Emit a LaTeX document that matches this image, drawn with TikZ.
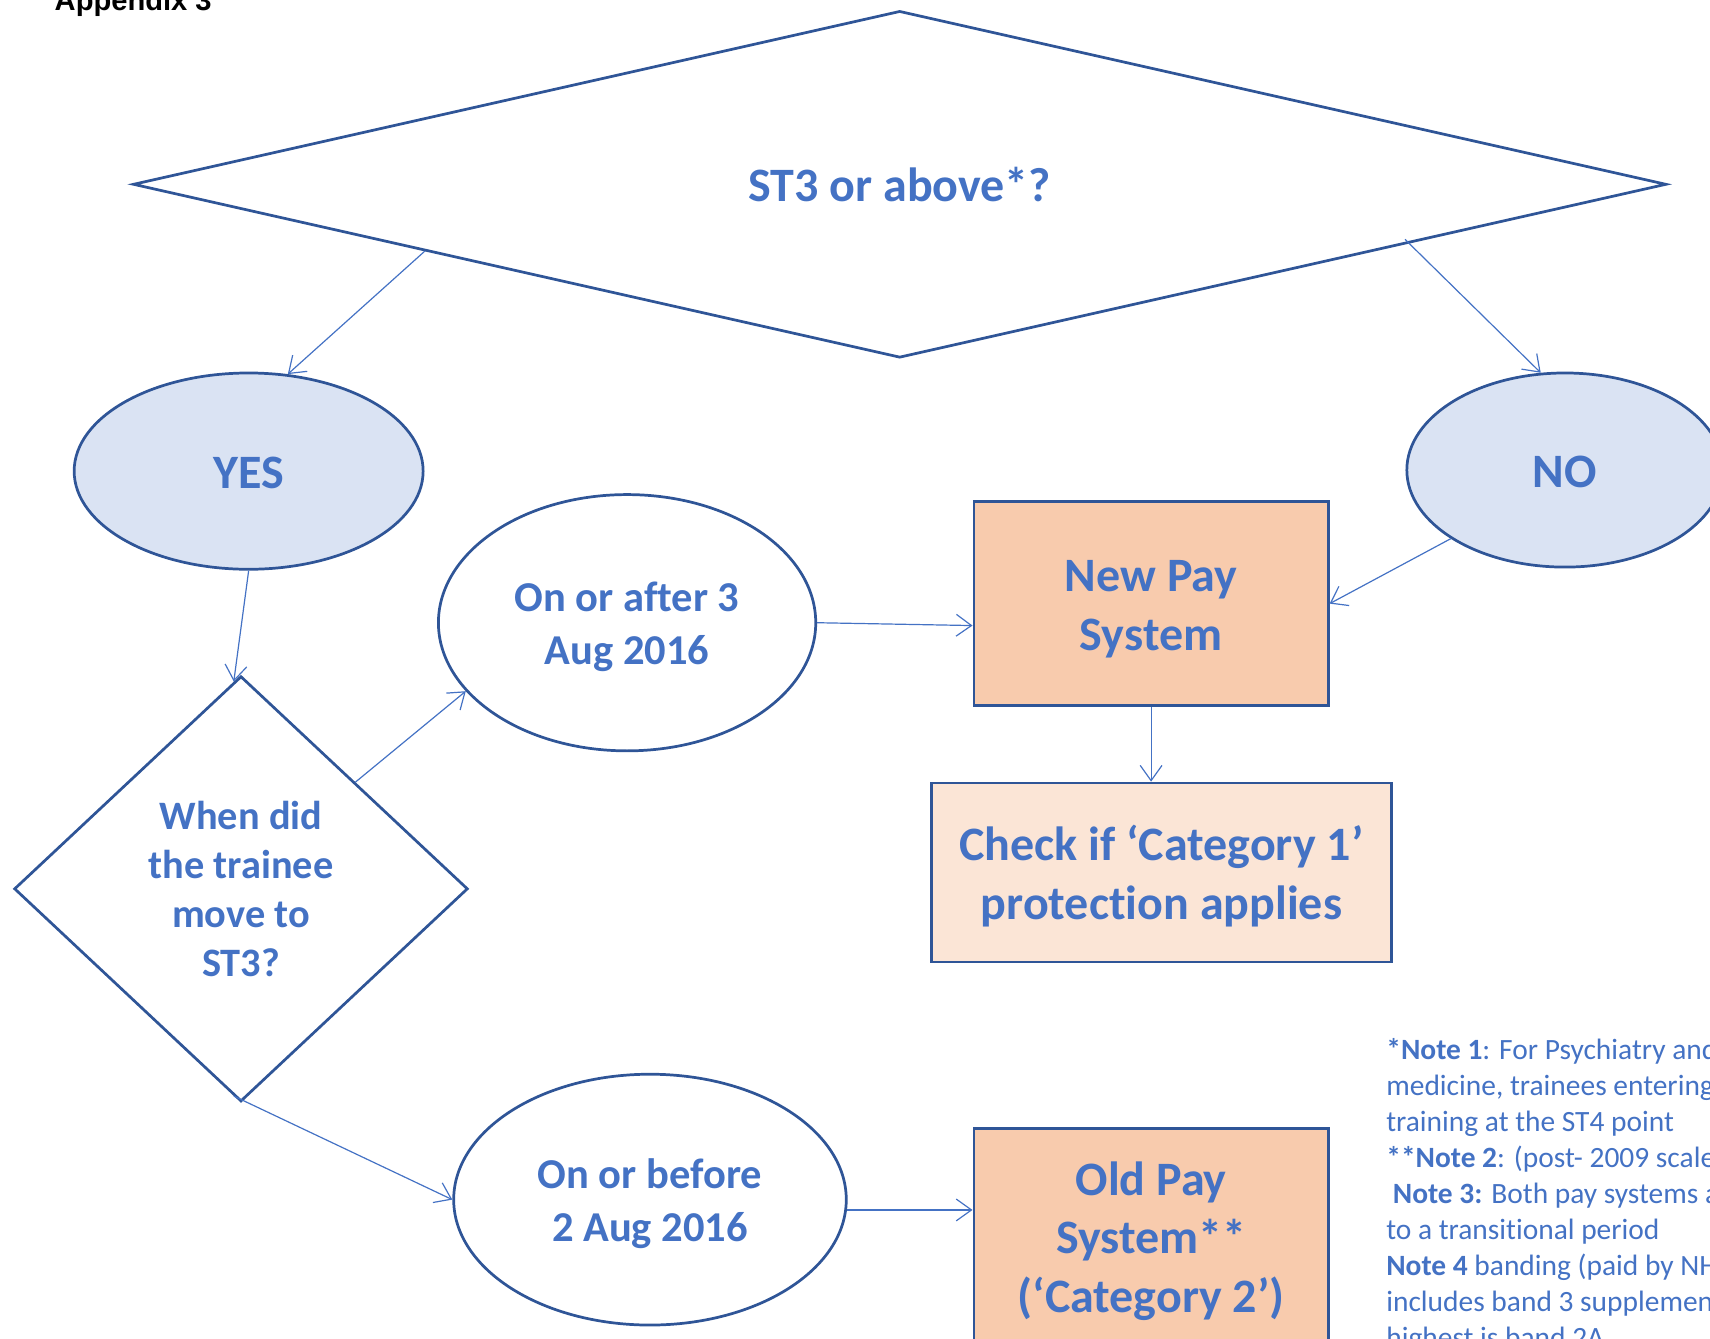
\documentclass[tikz,border=0pt]{standalone}
\usepackage{fontspec}
\setmainfont{Carlito}[Ligatures={TeX,NoCommon}]
\newfontfamily\headfont{Liberation Sans}
\usetikzlibrary{shapes.geometric, arrows.meta, calc}
\definecolor{txtblue}{HTML}{4472C4}
\definecolor{edgeblue}{HTML}{2F5597}
\definecolor{lightblue}{HTML}{DAE3F3}
\definecolor{peach}{HTML}{F8CBAD}
\definecolor{lightpeach}{HTML}{FBE5D6}
\newcommand\ls{\rule[-0.25em]{0pt}{1.22em}}
\tikzset{
  bigtext/.style={font=\bfseries\fontsize{44}{54}\selectfont, text=txtblue, align=center},
  midtext/.style={font=\bfseries\fontsize{39}{48.5}\selectfont, text=txtblue, align=center},
  qtext/.style={font=\bfseries\fontsize{37}{45}\selectfont, text=txtblue, align=center},
  outline/.style={draw=edgeblue, line width=2.5pt, inner sep=0pt},
  conn/.style={draw=txtblue, line width=1.1pt, ->},
}
\begin{document}
\begin{tikzpicture}[x=1pt, y=-1pt, >={Straight Barb[length=14pt,width=20pt]}]
      \useasboundingbox (0,0) rectangle (1568,1227);
      \clip (0,0) rectangle (1568,1227);
      \node [anchor=base west, inner sep=0, font=\headfont\bfseries\fontsize{26.7}{32}\selectfont] (title) at (50,10) {Appendix 3};

      \node [outline, diamond, aspect=4.42, minimum width=1406pt, minimum height=318pt, bigtext] (q1) at (825,169) {\ls ST3 or above*?};
      \node [outline, ellipse, fill=lightblue, minimum width=320pt, minimum height=180pt, bigtext] (yes) at (228,432) {\ls YES};
      \node [outline, ellipse, fill=lightblue, minimum width=290pt, minimum height=178pt, bigtext] (no) at (1435,431) {\ls NO};

      \node [outline, diamond, minimum width=416pt, minimum height=390pt, qtext] (q2) at (221,815) {\ls When did\\the trainee\\move to\\ST3?\ls};
      \node [outline, ellipse, minimum width=346pt, minimum height=235pt, midtext] (after) at (575,571) {\ls On or after 3\\Aug 2016\ls};
      \node [outline, ellipse, minimum width=360pt, minimum height=230pt, midtext] (before) at (596,1100) {\ls On or before\\2 Aug 2016\ls};

      \node [outline, rectangle, fill=peach, minimum width=325pt, minimum height=187pt, bigtext] (newpay) at (1055.5,553.5) {\ls New Pay\\System\ls};
      \node [outline, rectangle, fill=lightpeach, minimum width=422pt, minimum height=164pt, bigtext] (check) at (1065,800) {\ls Check if ‘Category 1’\\protection applies\ls};
      \node [outline, rectangle, fill=peach, minimum width=325pt, minimum height=198pt, bigtext] (oldpay) at (1055.5,1134) {\ls Old Pay\\System**\\(‘Category 2’)\ls};

      \node [anchor=north west, inner sep=0, align=left, text=txtblue, font=\fontsize{27}{33}\selectfont] (notes) at (1271,952)
        {\textbf{*Note 1}: For Psychiatry and\\
         medicine, trainees entering\\
         training at the ST4 point\\
         \textbf{**Note 2}: (post- 2009 scales)\\
         \hspace*{6pt}\textbf{Note 3:} Both pay systems are\\
         to a transitional period\\
         \textbf{Note 4} banding (paid by NHS\\
         includes band 3 supplement\\
         highest is band 2A};

      \draw [conn] (q1.188) -- (yes.68);
      \draw [conn, shorten <=-5pt] ($(q1.east)!0.337!(q1.south)$) -- (no.104);
      \draw [conn] (yes.south) -- (q2.92);
      \draw [conn] (q2.43) -- (after.203);
      \draw [conn] (after.east) -- (newpay.187.5);
      \draw [conn] (no.211) -- (newpay.east);
      \draw [conn] (newpay.south) -- (newpay.south |- check.north);
      \draw [conn] (q2.268) -- (before.west);
      \draw [conn] (before.-3) -- (before.-3 -| oldpay.west);
\end{tikzpicture}
\end{document}
